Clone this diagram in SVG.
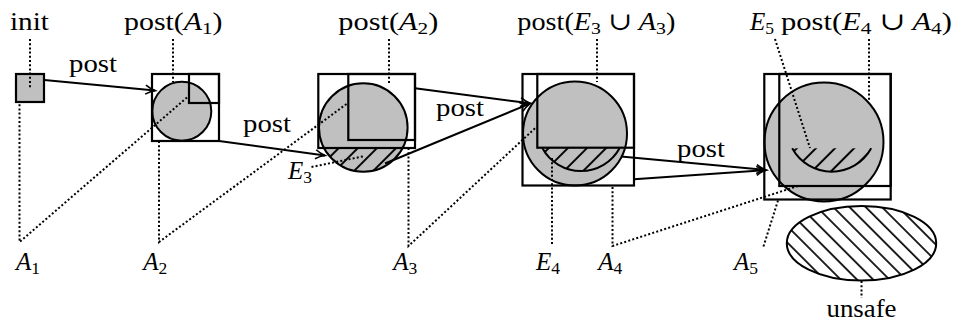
<svg xmlns="http://www.w3.org/2000/svg" width="955" height="323" viewBox="0 0 955 323">
<style>
  .fill { fill: #c0c0c0; stroke: none; }
  .edge { fill: none; stroke: #000; stroke-width: 2; }
  .box { fill: none; stroke: #000; stroke-width: 2.2; }
  .dot { fill: none; stroke: #000; stroke-width: 2; stroke-dasharray: 2 2.2; }
  .arrow { fill: none; stroke: #000; stroke-width: 2; marker-end: url(#arr); }
  .lbl { font-family: 'Liberation Serif', 'Times New Roman', 'DejaVu Serif', serif; font-size: 25px; fill: #000; }
  .it { font-style: italic; }
  .sub { font-size: 17.5px; font-style: normal; }
</style>
<defs>
  <marker id="arr" markerUnits="userSpaceOnUse" markerWidth="14" markerHeight="12" refX="11" refY="6" orient="auto">
    <path d="M1.5,1.5 Q6,4.6 11,6 Q6,7.4 1.5,10.5" fill="none" stroke="#000" stroke-width="1.6"/>
  </marker>
  <pattern id="hNE" patternUnits="userSpaceOnUse" width="13.5" height="13.5" patternTransform="rotate(45)">
    <line x1="6.75" y1="-1" x2="6.75" y2="15" stroke="#000" stroke-width="2"/>
  </pattern>
  <pattern id="hNW" patternUnits="userSpaceOnUse" width="11.5" height="11.5" patternTransform="rotate(-45)">
    <line x1="5.75" y1="-1" x2="5.75" y2="13" stroke="#000" stroke-width="1.7"/>
  </pattern>
  <clipPath id="c2"><circle cx="363.3" cy="127.5" r="44.3"/></clipPath>
  <clipPath id="c3"><circle cx="581" cy="127" r="44"/></clipPath>
  <clipPath id="c4"><circle cx="831.7" cy="126.7" r="45"/></clipPath>
  <clipPath id="cu"><ellipse cx="861.5" cy="243.3" rx="74.7" ry="37.3"/></clipPath>
</defs>

<g id="init">
  <rect x="16" y="74" width="28" height="28" fill="#c0c0c0" stroke="#000" stroke-width="2.2"/>
</g>

<g id="stage1">
  <circle cx="181.8" cy="111.2" r="29.5" fill="#c0c0c0" stroke="#000" stroke-width="2"/>
  <rect class="box" x="152" y="74" width="67" height="67"/>
  <rect class="box" x="189" y="74" width="30" height="29"/>
</g>

<g id="stage2">
  <circle cx="363.3" cy="127.5" r="44.3" class="fill"/>
  <rect x="318" y="148" width="92" height="26" fill="url(#hNE)" clip-path="url(#c2)"/>
  <circle cx="363.3" cy="127.5" r="44.3" class="edge"/>
  <rect class="box" x="318.3" y="74" width="96.7" height="74"/>
  <rect class="box" x="348.3" y="74" width="66.7" height="66"/>
</g>

<g id="stage3">
  <circle cx="575" cy="133.5" r="52" class="fill"/>
  <rect x="537" y="148" width="90" height="26" fill="url(#hNE)" clip-path="url(#c3)"/>
  <path class="edge" d="M542.3,148 A44,44 0 0 0 619.7,148"/>
  <circle cx="575" cy="133.5" r="52" class="edge"/>
  <rect class="box" x="522.5" y="74" width="111.5" height="111.5"/>
  <rect class="box" x="537.3" y="74" width="96.7" height="73.7"/>
</g>

<g id="stage4">
  <circle cx="824" cy="142" r="59.5" class="fill"/>
  <rect x="790" y="148.3" width="84" height="26" fill="url(#hNE)" clip-path="url(#c4)"/>
  <path class="edge" d="M792.2,148.3 A45,45 0 0 0 871.2,148.3"/>
  <circle cx="824" cy="142" r="59.5" class="edge"/>
  <rect class="box" x="764.3" y="74" width="126.4" height="125.5"/>
  <rect class="box" x="779.3" y="74" width="111.4" height="112"/>
</g>

<g id="unsafe">
  <ellipse cx="861.5" cy="243.3" rx="74.7" ry="37.3" fill="#fff"/>
  <rect x="786" y="205" width="151" height="77" fill="url(#hNW)" clip-path="url(#cu)"/>
  <ellipse cx="861.5" cy="243.3" rx="74.7" ry="37.3" class="edge"/>
</g>

<g id="connectors">
  <line class="arrow" x1="44.3" y1="80" x2="155" y2="90.6"/>
  <line class="arrow" x1="219" y1="141" x2="325" y2="155.5"/>
  <line class="arrow" x1="415" y1="88.3" x2="530" y2="103.3"/>
  <line class="arrow" x1="385" y1="163.5" x2="530" y2="103.6"/>
  <line class="arrow" x1="621" y1="156.5" x2="766" y2="170"/>
  <line class="arrow" x1="634" y1="179.3" x2="766" y2="170.2"/>

  <polyline class="dot" points="30,39 30,88"/>
  <polyline class="dot" points="187,97.5 19.5,242 19.5,102"/>
  <polyline class="dot" points="173,39 173,82"/>
  <polyline class="dot" points="346.5,104 159,242 159,141"/>
  <polyline class="dot" points="389,39 389,83"/>
  <polyline class="dot" points="311.5,167 365,156"/>
  <polyline class="dot" points="535,128.3 408.5,246 408.5,148"/>
  <polyline class="dot" points="597,39 597,82"/>
  <polyline class="dot" points="552,158 552,246"/>
  <polyline class="dot" points="798,186 612.5,246 612.5,186"/>
  <polyline class="dot" points="775,39 810,148"/>
  <polyline class="dot" points="869,39 869,100"/>
  <polyline class="dot" points="778,200.5 763.3,247"/>
  <polyline class="dot" points="861.5,281 861.5,298"/>
</g>

<g id="labels" class="lbl" font-family="'Liberation Serif', 'Times New Roman', serif">
  <text class="lbl" x="29.5" y="30" text-anchor="middle" textLength="39" lengthAdjust="spacingAndGlyphs">init</text>
  <text class="lbl" x="124" y="30" textLength="98.5" lengthAdjust="spacingAndGlyphs">post(<tspan class="it">A</tspan><tspan class="sub" dy="4">1</tspan><tspan dy="-4">)</tspan></text>
  <text class="lbl" x="338.3" y="30" textLength="100" lengthAdjust="spacingAndGlyphs">post(<tspan class="it">A</tspan><tspan class="sub" dy="4">2</tspan><tspan dy="-4">)</tspan></text>
  <text class="lbl" x="517.3" y="30" textLength="158" lengthAdjust="spacingAndGlyphs">post(<tspan class="it">E</tspan><tspan class="sub" dy="4">3</tspan><tspan dy="-4"> ∪ </tspan><tspan class="it">A</tspan><tspan class="sub" dy="4">3</tspan><tspan dy="-4">)</tspan></text>
  <text class="lbl" x="750" y="30"><tspan class="it">E</tspan><tspan class="sub" dy="4">5</tspan></text>
  <text class="lbl" x="781" y="30" textLength="171" lengthAdjust="spacingAndGlyphs">post(<tspan class="it">E</tspan><tspan class="sub" dy="4">4</tspan><tspan dy="-4"> ∪ </tspan><tspan class="it">A</tspan><tspan class="sub" dy="4">4</tspan><tspan dy="-4">)</tspan></text>

  <text class="lbl" x="69" y="72" textLength="48" lengthAdjust="spacingAndGlyphs">post</text>
  <text class="lbl" x="243" y="132" textLength="48" lengthAdjust="spacingAndGlyphs">post</text>
  <text class="lbl" x="436" y="116" textLength="48" lengthAdjust="spacingAndGlyphs">post</text>
  <text class="lbl" x="677" y="157" textLength="48" lengthAdjust="spacingAndGlyphs">post</text>

  <text class="lbl" x="288" y="178.5"><tspan class="it">E</tspan><tspan class="sub" dy="4">3</tspan></text>
  <text class="lbl" x="16" y="270"><tspan class="it">A</tspan><tspan class="sub" dy="4">1</tspan></text>
  <text class="lbl" x="143.3" y="270"><tspan class="it">A</tspan><tspan class="sub" dy="4">2</tspan></text>
  <text class="lbl" x="393.3" y="270"><tspan class="it">A</tspan><tspan class="sub" dy="4">3</tspan></text>
  <text class="lbl" x="536" y="270"><tspan class="it">E</tspan><tspan class="sub" dy="4">4</tspan></text>
  <text class="lbl" x="598.3" y="270"><tspan class="it">A</tspan><tspan class="sub" dy="4">4</tspan></text>
  <text class="lbl" x="734" y="270"><tspan class="it">A</tspan><tspan class="sub" dy="4">5</tspan></text>
  <text class="lbl" x="861.5" y="316.7" text-anchor="middle" textLength="70" lengthAdjust="spacingAndGlyphs">unsafe</text>
</g>
</svg>
